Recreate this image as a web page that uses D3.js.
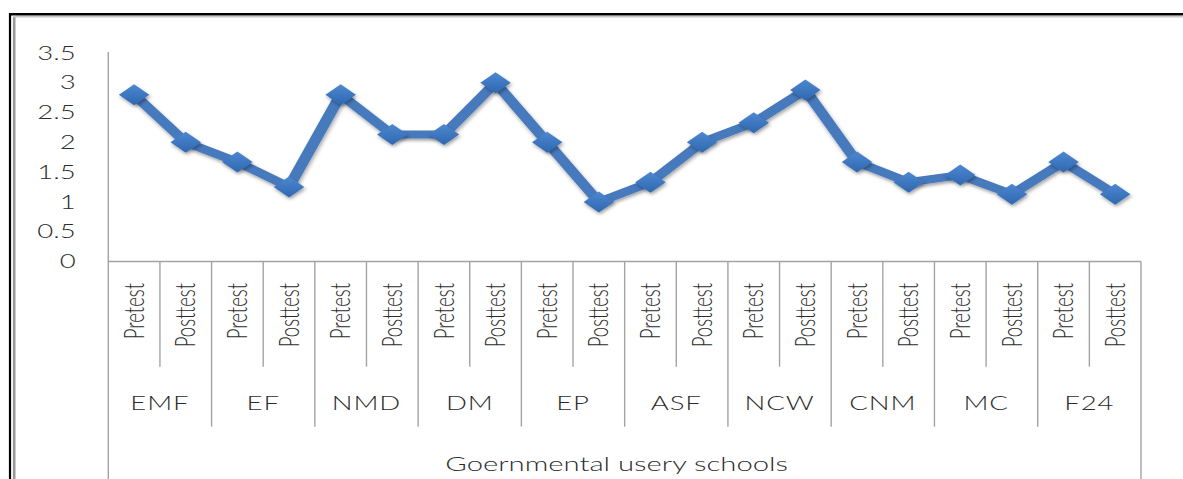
<!DOCTYPE html>
<html><head><meta charset="utf-8">
<script src="https://cdn.jsdelivr.net/npm/d3@7"></script>
<style>html,body{margin:0;padding:0;background:#fff;overflow:hidden}</style>
</head><body><div id="chart"></div>
<script>
const groups = ["EMF","EF","NMD","DM","EP","ASF","NCW","CNM","MC","F24"];
const phases = ["Pretest","Posttest"];
const scores = [2.8,2.0, 1.67,1.25, 2.8,2.13, 2.13,3.0, 2.0,1.0, 1.33,2.0, 2.33,2.88, 1.67,1.33, 1.45,1.13, 1.67,1.13];
const yTicks = [0,0.5,1,1.5,2,2.5,3,3.5];
const axisTitle = "Goernmental usery schools";

const W = 1183, H = 479, SX = 1.45, LW = W / SX;
const FONT = "Lato, 'Open Sans', sans-serif";
const TXT = "#2b2b2b";
const GRID = "#a3a3a3";

const svg = d3.select("#chart").append("svg")
  .attr("width", W).attr("height", H)
  .attr("viewBox", `0 0 ${LW} ${H}`)
  .attr("preserveAspectRatio", "none");

const defs = svg.append("defs");
const f = defs.append("filter").attr("id", "sh").attr("x", "-30%").attr("y", "-30%").attr("width", "160%").attr("height", "160%");
f.append("feDropShadow").attr("dx", 0.8).attr("dy", 2.2).attr("stdDeviation", 1.6)
  .attr("flood-color", "#000").attr("flood-opacity", 0.35);
const gr = defs.append("linearGradient").attr("id", "mk").attr("x1", 0).attr("y1", 0).attr("x2", 0).attr("y2", 1);
gr.append("stop").attr("offset", "0%").attr("stop-color", "#4d88d0");
gr.append("stop").attr("offset", "100%").attr("stop-color", "#2e67b0");

// frame
const fx = 10 / SX;
svg.append("line").attr("x1", fx).attr("x2", fx).attr("y1", 13).attr("y2", H)
  .attr("stroke", "#000").attr("stroke-width", 2.2 / SX);
svg.append("line").attr("x1", fx - 1 / SX).attr("x2", LW).attr("y1", 14.3).attr("y2", 14.3)
  .attr("stroke", "#000").attr("stroke-width", 2.4);
svg.append("line").attr("x1", 14.2 / SX).attr("x2", 14.2 / SX).attr("y1", 15.5).attr("y2", H)
  .attr("stroke", "#9a9a9a").attr("stroke-width", 2.6 / SX);
svg.append("line").attr("x1", 13 / SX).attr("x2", LW).attr("y1", 16.8).attr("y2", 16.8)
  .attr("stroke", "#c8c8c8").attr("stroke-width", 1.6);

const data = [];
groups.forEach((g, i) => phases.forEach((p, j) => data.push({ g, p, key: g + "|" + p, v: scores[i * 2 + j] })));

const x0 = 108.3 / SX, x1 = 1141 / SX;
const x = d3.scaleBand().domain(data.map(d => d.key)).range([x0, x1]);
const xg = d3.scaleBand().domain(groups).range([x0, x1]);
const y = d3.scaleLinear().domain([0, 3.5]).range([261.5, 53]);

// y axis
const ya = svg.append("g").attr("transform", `translate(${x0},0)`)
  .call(d3.axisLeft(y).tickValues(yTicks).tickSize(0).tickPadding(22.5).tickFormat(d => String(d)));
ya.select(".domain").remove();
ya.selectAll("text").attr("font-family", FONT).attr("font-size", 19).attr("font-weight", 300).attr("fill", TXT);
svg.append("line").attr("x1", x0).attr("x2", x0).attr("y1", 52).attr("y2", H)
  .attr("stroke", GRID).attr("stroke-width", 1.4 / SX);

// category table
svg.append("line").attr("x1", x0).attr("x2", x1).attr("y1", y(0)).attr("y2", y(0))
  .attr("stroke", GRID).attr("stroke-width", 1.5);
svg.append("line").attr("x1", x1).attr("x2", x1).attr("y1", y(0)).attr("y2", H)
  .attr("stroke", GRID).attr("stroke-width", 1.4 / SX);
svg.selectAll("line.inner").data(groups).join("line").attr("class", "inner")
  .attr("x1", g => xg(g) + xg.bandwidth() / 2).attr("x2", g => xg(g) + xg.bandwidth() / 2)
  .attr("y1", y(0)).attr("y2", 366.7).attr("stroke", GRID).attr("stroke-width", 1.4 / SX);
svg.selectAll("line.gdiv").data(groups.slice(1)).join("line").attr("class", "gdiv")
  .attr("x1", g => xg(g)).attr("x2", g => xg(g))
  .attr("y1", y(0)).attr("y2", 426.7).attr("stroke", GRID).attr("stroke-width", 1.4 / SX);

// rotated phase labels
const xa = svg.append("g").attr("transform", `translate(0,${y(0)})`)
  .call(d3.axisBottom(x).tickSize(0).tickFormat(k => k.split("|")[1]));
xa.select(".domain").remove();
xa.selectAll("text")
  .attr("font-family", FONT).attr("font-size", 18.5).attr("font-weight", 300).attr("fill", TXT)
  .attr("text-anchor", "end").attr("x", 0).attr("y", 0).attr("dy", "0.36em")
  .attr("transform", `translate(0,${283 - y(0)}) rotate(-90)`);

// group labels
svg.selectAll("text.grp").data(groups).join("text").attr("class", "grp")
  .attr("x", g => xg(g) + xg.bandwidth() / 2).attr("y", 410)
  .attr("text-anchor", "middle").attr("font-family", FONT).attr("font-size", 19)
  .attr("font-weight", 300).attr("letter-spacing", 0.6)
  .attr("fill", TXT).text(g => g);

// title
svg.append("text").attr("x", (x0 + x1) / 2 - 8 / SX).attr("y", 471)
  .attr("text-anchor", "middle").attr("font-family", FONT).attr("font-size", 20.2)
  .attr("font-weight", 300).attr("fill", TXT).text(axisTitle);

// series
const cx = d => x(d.key) + x.bandwidth() / 2;
const line = d3.line().x(cx).y(d => y(d.v));
svg.append("path").datum(data).attr("d", line).attr("fill", "none")
  .attr("stroke", "#4679bd").attr("stroke-width", 8).attr("stroke-linejoin", "round")
  .attr("filter", "url(#sh)");
const r = 10.5;
svg.selectAll("path.mk").data(data).join("path").attr("class", "mk")
  .attr("d", d => `M${cx(d)},${y(d.v) - r}L${cx(d) + r},${y(d.v)}L${cx(d)},${y(d.v) + r}L${cx(d) - r},${y(d.v)}Z`)
  .attr("fill", "url(#mk)").attr("filter", "url(#sh)");
</script></body></html>
